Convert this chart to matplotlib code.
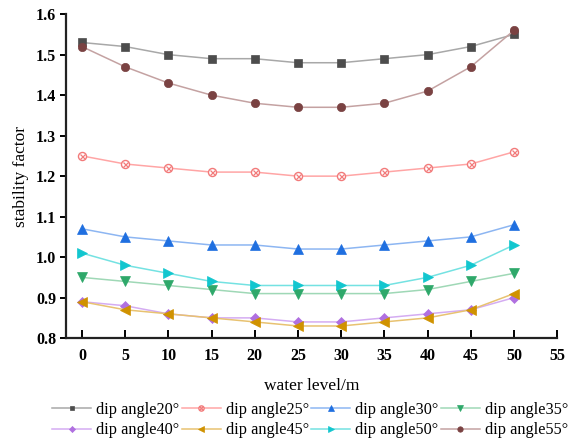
import numpy as np
import matplotlib
matplotlib.use('Agg')
import matplotlib.pyplot as plt
from matplotlib.legend_handler import HandlerTuple

plt.rcParams['font.family'] = ['Liberation Serif', 'DejaVu Serif']

water_level = [0, 5, 10, 15, 20, 25, 30, 35, 40, 45, 50]

dip20 = [1.53, 1.52, 1.50, 1.49, 1.49, 1.48, 1.48, 1.49, 1.50, 1.52, 1.55]
dip25 = [1.25, 1.23, 1.22, 1.21, 1.21, 1.20, 1.20, 1.21, 1.22, 1.23, 1.26]
dip30 = [1.07, 1.05, 1.04, 1.03, 1.03, 1.02, 1.02, 1.03, 1.04, 1.05, 1.08]
dip35 = [0.95, 0.94, 0.93, 0.92, 0.91, 0.91, 0.91, 0.91, 0.92, 0.94, 0.96]
dip40 = [0.89, 0.88, 0.86, 0.85, 0.85, 0.84, 0.84, 0.85, 0.86, 0.87, 0.90]
dip45 = [0.89, 0.87, 0.86, 0.85, 0.84, 0.83, 0.83, 0.84, 0.85, 0.87, 0.91]
dip50 = [1.01, 0.98, 0.96, 0.94, 0.93, 0.93, 0.93, 0.93, 0.95, 0.98, 1.03]
dip55 = [1.52, 1.47, 1.43, 1.40, 1.38, 1.37, 1.37, 1.38, 1.41, 1.47, 1.56]

labels = ['dip angle20°', 'dip angle25°', 'dip angle30°', 'dip angle35°',
          'dip angle40°', 'dip angle45°', 'dip angle50°', 'dip angle55°']
series = [dip20, dip25, dip30, dip35, dip40, dip45, dip50, dip55]

# (marker, marker colour, line colour, marker size)
styles = [('s', '#4d4d4d', '#a8a8a8', 5.3),
          ('o', '#f27a7a', '#ffa5a5', 5.8),
          ('^', '#1f6fe0', '#8db6f2', 6.5),
          ('v', '#2ea86a', '#9fd8b6', 6.5),
          ('D', '#b070e0', '#d4acf2', 4.8),
          ('<', '#d09200', '#e8c271', 6.5),
          ('>', '#12c6cf', '#74e2e2', 6.5),
          ('o', '#7a4242', '#c4a2a2', 6.0)]

fig = plt.figure(figsize=(5.68, 4.42), dpi=100)
ax = fig.add_axes([0.116, 0.235, 0.865, 0.733])

handles = []
for i, (vals, lab, (mk, mc, lc, ms)) in enumerate(zip(series, labels, styles)):
    if i == 1:
        # open circle with a cross inside
        h, = ax.plot(water_level, vals, color=lc, lw=1.1, marker=mk, markersize=ms,
                     markerfacecolor='white', markeredgecolor=mc, markeredgewidth=1.0)
        hx, = ax.plot(water_level, vals, ls='none', marker='x', markersize=3.6,
                      markeredgecolor=mc, markeredgewidth=0.9)
        handles.append((h, hx))
    else:
        h, = ax.plot(water_level, vals, color=lc, lw=1.1, marker=mk, markersize=ms,
                     markerfacecolor=mc, markeredgecolor=mc, markeredgewidth=0.5)
        handles.append(h)

ax.set_xlim(-1.85, 55)
ax.set_ylim(0.8, 1.6)
ax.set_xticks(np.arange(0, 56, 5))
ax.set_yticks(np.arange(0.8, 1.61, 0.1))
ax.set_yticklabels(['%.1f' % v for v in np.arange(0.8, 1.61, 0.1)])

for side in ['top', 'right']:
    ax.spines[side].set_visible(False)
for side in ['left', 'bottom']:
    ax.spines[side].set_linewidth(1.6)
    ax.spines[side].set_color('#222222')

ax.tick_params(axis='x', direction='in', length=6, width=1.4, labelsize=11.5, pad=7)
ax.tick_params(axis='y', direction='out', length=4, width=1.4, labelsize=11.5, pad=3)
for t in ax.get_xticklabels() + ax.get_yticklabels():
    t.set_fontweight('bold')

ax.set_xlabel('water level/m', fontsize=12.5, labelpad=10)
ax.set_ylabel('stability factor', fontsize=12.5, labelpad=5)

# legend fills column by column, so interleave to get rows 20-35 / 40-55
order = [0, 4, 1, 5, 2, 6, 3, 7]
fig.legend([handles[i] for i in order], [labels[i] for i in order],
           handler_map={tuple: HandlerTuple(ndivide=1)},
           loc='lower center', bbox_to_anchor=(0.546, -0.025), ncol=4,
           frameon=False, fontsize=11.7, handlelength=2.4, handletextpad=0.3,
           columnspacing=0.15, labelspacing=0.3, markerscale=0.65)

fig.savefig('out.png', dpi=100)
